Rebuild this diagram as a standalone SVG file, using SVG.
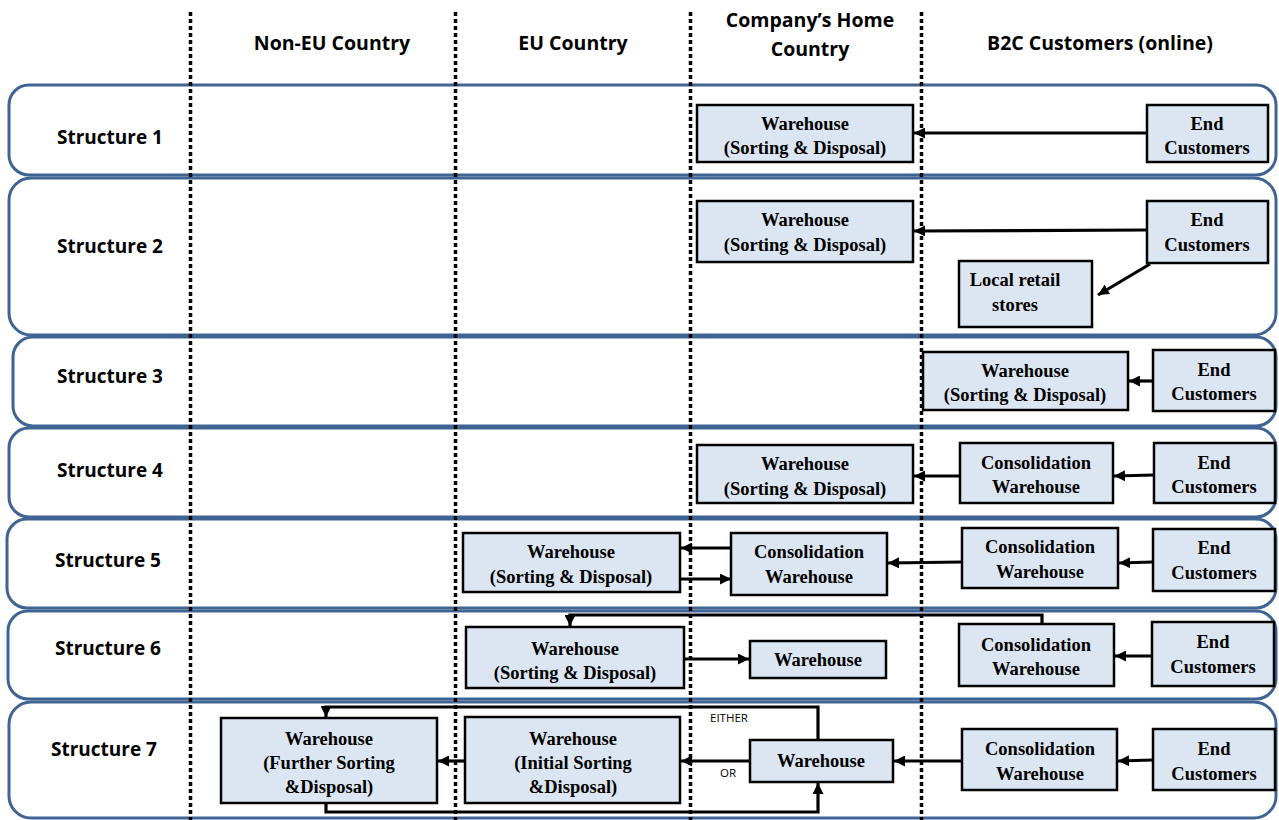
<svg xmlns="http://www.w3.org/2000/svg" width="1279" height="820" viewBox="0 0 1279 820">
  <defs>
    <marker id="arrow" viewBox="0 0 10 10" refX="10" refY="5" markerWidth="11" markerHeight="11" markerUnits="userSpaceOnUse" orient="auto">
      <path d="M0,0 L10,5 L0,10 z" fill="#000"/>
    </marker>
    <style>
      .band { fill: #fff; stroke: #3F6493; stroke-width: 3; }
      .lane { stroke: #000; stroke-width: 3.5; stroke-dasharray: 4 3; fill: none; }
      .hdr { font-family: "Open Sans", "Liberation Sans", sans-serif; font-weight: bold; font-size: 19.5px; fill: #000; text-anchor: middle; }
      .row { font-family: "Open Sans", "Liberation Sans", sans-serif; font-weight: bold; font-size: 19px; fill: #000; text-anchor: middle; }
      .box { fill: #DCE6F2; stroke: #000; stroke-width: 2.5; }
      .lbl { font-family: "Liberation Serif", "Times New Roman", serif; font-weight: bold; font-size: 18.5px; fill: #000; text-anchor: middle; }
      .note { font-family: "Open Sans", "Liberation Sans", sans-serif; font-size: 11.5px; fill: #000; }
      .link { stroke: #000; stroke-width: 3.2; fill: none; }
      .arr { marker-end: url(#arrow); }
    </style>
  </defs>

  <rect width="1279" height="820" fill="#fff"/>

  <!-- structure bands -->
  <g id="bands">
    <rect class="band" x="9" y="85" width="1267" height="90" rx="20"/>
    <rect class="band" x="9" y="178" width="1267" height="157" rx="22"/>
    <rect class="band" x="13" y="337" width="1263" height="89" rx="20"/>
    <rect class="band" x="9" y="428" width="1267" height="89" rx="20"/>
    <rect class="band" x="7" y="519" width="1269" height="89" rx="20"/>
    <rect class="band" x="8" y="611" width="1268" height="88" rx="20"/>
    <rect class="band" x="9" y="702" width="1267" height="116" rx="22"/>
  </g>

  <!-- column separators -->
  <g id="lanes">
    <line class="lane" x1="190.5" y1="12" x2="190.5" y2="820"/>
    <line class="lane" x1="455.5" y1="12" x2="455.5" y2="820"/>
    <line class="lane" x1="690.5" y1="12" x2="690.5" y2="820"/>
    <line class="lane" x1="921.5" y1="12" x2="921.5" y2="820"/>
  </g>

  <!-- column headings -->
  <g id="headings">
    <text class="hdr" x="332" y="50">Non-EU Country</text>
    <text class="hdr" x="573" y="50">EU Country</text>
    <text class="hdr" x="810" y="27">Company’s Home</text>
    <text class="hdr" x="810" y="56">Country</text>
    <text class="hdr" x="1100" y="50">B2C Customers (online)</text>
  </g>

  <!-- row labels -->
  <g id="rows">
    <text class="row" x="110" y="144">Structure 1</text>
    <text class="row" x="110" y="253">Structure 2</text>
    <text class="row" x="110" y="383">Structure 3</text>
    <text class="row" x="110" y="477">Structure 4</text>
    <text class="row" x="108" y="567">Structure 5</text>
    <text class="row" x="108" y="655">Structure 6</text>
    <text class="row" x="104" y="756">Structure 7</text>
  </g>

  <!-- connectors -->
  <g id="connectors">
    <!-- structure 1 -->
    <line class="link arr" x1="1147" y1="133" x2="914" y2="133"/>
    <!-- structure 2 -->
    <line class="link arr" x1="1147" y1="230" x2="914" y2="231"/>
    <line class="link arr" x1="1150" y1="264" x2="1098" y2="295"/>
    <!-- structure 3 -->
    <line class="link arr" x1="1153" y1="381" x2="1129" y2="381"/>
    <!-- structure 4 -->
    <line class="link arr" x1="960" y1="476" x2="914" y2="476"/>
    <line class="link arr" x1="1154" y1="475" x2="1114" y2="476"/>
    <!-- structure 5 -->
    <line class="link arr" x1="731" y1="548" x2="681" y2="548"/>
    <line class="link arr" x1="681" y1="579" x2="731" y2="579"/>
    <line class="link arr" x1="962" y1="562" x2="888" y2="563"/>
    <line class="link arr" x1="1153" y1="562" x2="1119" y2="563"/>
    <!-- structure 6 -->
    <polyline class="link arr" points="1042,624 1042,615 570,615 570,626"/>
    <line class="link arr" x1="685" y1="659" x2="749" y2="659"/>
    <line class="link arr" x1="1152" y1="656" x2="1115" y2="656"/>
    <!-- structure 7 -->
    <line class="link arr" x1="1153" y1="760" x2="1118" y2="761"/>
    <line class="link arr" x1="962" y1="761" x2="894" y2="761"/>
    <line class="link arr" x1="750" y1="761" x2="681" y2="761"/>
    <line class="link arr" x1="465" y1="761" x2="438" y2="761"/>
    <polyline class="link arr" points="818,740 818,707 326,707 326,717"/>
    <polyline class="link arr" points="326,803 326,812 818,812 818,783"/>
    <text class="note" x="710" y="722">EITHER</text>
    <text class="note" x="720" y="777">OR</text>
  </g>

  <!-- structure 1 nodes -->
  <g id="s1-warehouse">
    <rect class="box" x="697" y="105" width="216" height="57"/>
    <text class="lbl" x="805" y="130">Warehouse</text>
    <text class="lbl" x="805" y="154">(Sorting &amp; Disposal)</text>
  </g>
  <g id="s1-customers">
    <rect class="box" x="1147" y="105" width="121" height="57"/>
    <text class="lbl" x="1207" y="130">End</text>
    <text class="lbl" x="1207" y="154">Customers</text>
  </g>

  <!-- structure 2 nodes -->
  <g id="s2-warehouse">
    <rect class="box" x="697" y="201" width="216" height="61"/>
    <text class="lbl" x="805" y="226">Warehouse</text>
    <text class="lbl" x="805" y="251">(Sorting &amp; Disposal)</text>
  </g>
  <g id="s2-customers">
    <rect class="box" x="1147" y="201" width="121" height="62"/>
    <text class="lbl" x="1207" y="226">End</text>
    <text class="lbl" x="1207" y="251">Customers</text>
  </g>
  <g id="s2-retail">
    <rect class="box" x="959" y="261" width="133" height="66"/>
    <text class="lbl" x="1015" y="286">Local retail</text>
    <text class="lbl" x="1015" y="311">stores</text>
  </g>

  <!-- structure 3 nodes -->
  <g id="s3-warehouse">
    <rect class="box" x="923" y="352" width="205" height="58"/>
    <text class="lbl" x="1025" y="377">Warehouse</text>
    <text class="lbl" x="1025" y="401">(Sorting &amp; Disposal)</text>
  </g>
  <g id="s3-customers">
    <rect class="box" x="1153" y="350" width="122" height="61"/>
    <text class="lbl" x="1214" y="376">End</text>
    <text class="lbl" x="1214" y="400">Customers</text>
  </g>

  <!-- structure 4 nodes -->
  <g id="s4-warehouse">
    <rect class="box" x="697" y="445" width="216" height="58"/>
    <text class="lbl" x="805" y="470">Warehouse</text>
    <text class="lbl" x="805" y="495">(Sorting &amp; Disposal)</text>
  </g>
  <g id="s4-consolidation">
    <rect class="box" x="960" y="443" width="153" height="60"/>
    <text class="lbl" x="1036" y="469">Consolidation</text>
    <text class="lbl" x="1036" y="493">Warehouse</text>
  </g>
  <g id="s4-customers">
    <rect class="box" x="1154" y="443" width="121" height="60"/>
    <text class="lbl" x="1214" y="469">End</text>
    <text class="lbl" x="1214" y="493">Customers</text>
  </g>

  <!-- structure 5 nodes -->
  <g id="s5-warehouse">
    <rect class="box" x="463" y="533" width="217" height="59"/>
    <text class="lbl" x="571" y="558">Warehouse</text>
    <text class="lbl" x="571" y="583">(Sorting &amp; Disposal)</text>
  </g>
  <g id="s5-consolidation-home">
    <rect class="box" x="731" y="533" width="156" height="62"/>
    <text class="lbl" x="809" y="558">Consolidation</text>
    <text class="lbl" x="809" y="583">Warehouse</text>
  </g>
  <g id="s5-consolidation">
    <rect class="box" x="962" y="528" width="156" height="60"/>
    <text class="lbl" x="1040" y="553">Consolidation</text>
    <text class="lbl" x="1040" y="578">Warehouse</text>
  </g>
  <g id="s5-customers">
    <rect class="box" x="1153" y="529" width="122" height="62"/>
    <text class="lbl" x="1214" y="554">End</text>
    <text class="lbl" x="1214" y="579">Customers</text>
  </g>

  <!-- structure 6 nodes -->
  <g id="s6-warehouse">
    <rect class="box" x="466" y="627" width="218" height="61"/>
    <text class="lbl" x="575" y="655">Warehouse</text>
    <text class="lbl" x="575" y="679">(Sorting &amp; Disposal)</text>
  </g>
  <g id="s6-home-warehouse">
    <rect class="box" x="750" y="641" width="136" height="37"/>
    <text class="lbl" x="818" y="666">Warehouse</text>
  </g>
  <g id="s6-consolidation">
    <rect class="box" x="959" y="624" width="155" height="62"/>
    <text class="lbl" x="1036" y="651">Consolidation</text>
    <text class="lbl" x="1036" y="675">Warehouse</text>
  </g>
  <g id="s6-customers">
    <rect class="box" x="1152" y="622" width="122" height="64"/>
    <text class="lbl" x="1213" y="648">End</text>
    <text class="lbl" x="1213" y="673">Customers</text>
  </g>

  <!-- structure 7 nodes -->
  <g id="s7-further">
    <rect class="box" x="221" y="718" width="216" height="85"/>
    <text class="lbl" x="329" y="745">Warehouse</text>
    <text class="lbl" x="329" y="769">(Further Sorting</text>
    <text class="lbl" x="329" y="793">&amp;Disposal)</text>
  </g>
  <g id="s7-initial">
    <rect class="box" x="465" y="717" width="215" height="86"/>
    <text class="lbl" x="573" y="745">Warehouse</text>
    <text class="lbl" x="573" y="769">(Initial Sorting</text>
    <text class="lbl" x="573" y="793">&amp;Disposal)</text>
  </g>
  <g id="s7-home-warehouse">
    <rect class="box" x="750" y="740" width="143" height="42"/>
    <text class="lbl" x="821" y="767">Warehouse</text>
  </g>
  <g id="s7-consolidation">
    <rect class="box" x="962" y="729" width="155" height="61"/>
    <text class="lbl" x="1040" y="755">Consolidation</text>
    <text class="lbl" x="1040" y="780">Warehouse</text>
  </g>
  <g id="s7-customers">
    <rect class="box" x="1153" y="729" width="122" height="61"/>
    <text class="lbl" x="1214" y="755">End</text>
    <text class="lbl" x="1214" y="780">Customers</text>
  </g>
</svg>
